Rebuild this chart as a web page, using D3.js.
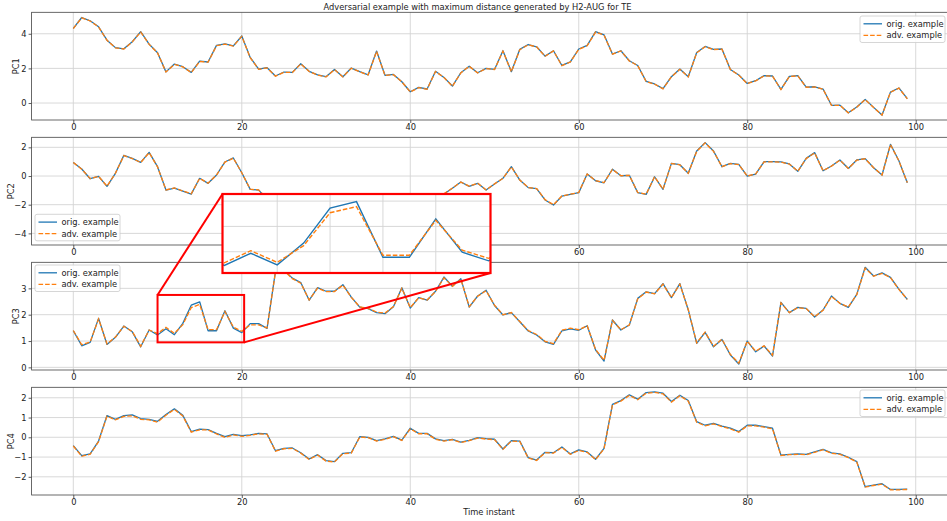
<!DOCTYPE html>
<html><head><meta charset="utf-8">
<script src="https://cdn.jsdelivr.net/npm/d3@7"></script>
<style>
body{margin:0;background:#fff}
svg text{font-family:"DejaVu Sans",sans-serif;fill:#222}
</style></head>
<body><svg id="c" width="947" height="521"></svg>
<script>
// ---------------- data ----------------
const timeIdx = d3.range(100);
const xTicks = [0, 20, 40, 60, 80, 100];
const pc1Ticks = [0, 2, 4];
const pc2Ticks = [-4, -2, 0, 2];
const pc3Ticks = [0, 1, 2, 3];
const pc4Ticks = [-2, -1, 0, 1, 2];
const insetXTicks = [12, 14, 16, 18];
const insetYTicks = [1.5, 2.0, 2.5];

const pc1Orig = [4.31,4.94,4.75,4.4,3.63,3.2,3.13,3.54,4.12,3.4,
2.9,1.8,2.25,2.1,1.77,2.42,2.37,3.33,3.42,3.3,
3.87,2.63,1.96,2.04,1.56,1.79,1.77,2.27,1.83,1.63,
1.52,1.94,1.52,2.02,1.81,1.63,3.0,1.6,1.65,1.23,
0.65,0.9,0.81,1.83,1.48,0.98,1.75,2.13,1.75,2.0,
1.94,3.02,1.81,3.1,3.38,3.25,2.71,3.02,2.17,2.38,
3.12,3.33,4.12,3.94,2.83,3.02,2.44,2.17,1.25,1.1,
0.83,1.52,1.96,1.52,2.92,3.27,3.1,3.12,1.94,1.62,
1.13,1.29,1.58,1.56,0.79,1.54,1.58,0.92,0.94,0.81,
-0.13,-0.12,-0.56,-0.23,0.21,-0.25,-0.69,0.63,0.87,0.25];
const pc1Adv = [4.30,4.92,4.74,4.39,3.62,3.19,3.12,3.53,4.10,3.39,
2.89,1.79,2.23,2.09,1.76,2.40,2.36,3.31,3.40,3.29,
3.85,2.62,1.95,2.03,1.55,1.78,1.76,2.26,1.82,1.62,
1.51,1.93,1.51,2.01,1.80,1.62,2.98,1.59,1.64,1.22,
0.64,0.89,0.80,1.82,1.47,0.97,1.74,2.12,1.74,1.99,
1.93,3.00,1.80,3.08,3.36,3.24,2.70,3.01,2.16,2.37,
3.10,3.31,4.10,3.92,2.82,3.01,2.43,2.16,1.24,1.09,
0.82,1.51,1.95,1.51,2.90,3.25,3.09,3.11,1.93,1.61,
1.12,1.28,1.57,1.55,0.78,1.53,1.57,0.91,0.93,0.80,
-0.14,-0.13,-0.57,-0.24,0.20,-0.26,-0.70,0.62,0.86,0.24];

const pc2Orig = [0.95,0.49,-0.19,-0.02,-0.72,0.19,1.44,1.23,0.95,1.65,
0.65,-0.98,-0.84,-1.05,-1.26,-0.16,-0.51,0.07,0.98,1.26,
0.23,-0.93,-0.98,-1.6,-1.9,-1.7,-2.1,-1.8,-1.5,-1.9,
-2.2,-1.7,-1.8,-2.0,-1.6,-1.9,-1.7,-1.5,-1.8,-2.0,
-1.7,-1.9,-1.6,-1.7,-1.25,-0.85,-0.42,-0.72,-0.51,-0.98,
-0.56,-0.16,0.65,-0.28,-0.81,-0.88,-1.67,-2.02,-1.4,-1.28,
-1.16,0.14,-0.33,-0.47,0.47,0.02,0.05,-1.16,-1.28,-0.05,
-0.93,0.88,0.79,0.19,1.74,2.33,1.74,0.65,0.88,0.81,
0.0,0.14,1.0,1.0,0.98,0.84,0.33,1.23,1.63,0.37,
0.7,1.12,0.53,1.12,1.21,0.58,0.07,2.21,1.07,-0.47];
const pc2Adv = [0.94,0.48,-0.18,-0.02,-0.71,0.19,1.42,1.22,0.94,1.63,
0.64,-0.97,-0.83,-1.04,-1.24,-0.16,-0.50,0.07,0.97,1.24,
0.23,-0.92,-0.97,-1.58,-1.88,-1.69,-2.08,-1.79,-1.5,-1.88,
-2.18,-1.69,-1.79,-1.98,-1.6,-1.88,-1.69,-1.5,-1.79,-1.98,
-1.69,-1.88,-1.6,-1.69,-1.24,-0.84,-0.42,-0.71,-0.50,-0.97,
-0.55,-0.16,0.64,-0.28,-0.80,-0.87,-1.65,-2.00,-1.39,-1.27,
-1.15,0.14,-0.33,-0.46,0.46,0.02,0.05,-1.15,-1.27,-0.05,
-0.92,0.87,0.78,0.19,1.72,2.31,1.72,0.65,0.87,0.80,
0.0,0.14,0.99,0.99,0.97,0.83,0.33,1.22,1.61,0.37,
0.69,1.11,0.53,1.11,1.20,0.58,0.07,2.19,1.06,-0.46];

const pc3Orig = [1.39,0.82,0.95,1.86,0.87,1.14,1.57,1.35,0.78,1.42,
1.23,1.47,1.24,1.67,2.36,2.49,1.39,1.39,2.15,1.49,
1.32,1.66,1.66,1.48,3.65,3.7,3.39,3.22,2.55,3.03,
2.89,2.89,3.14,2.67,2.29,2.23,2.08,2.04,2.3,3.02,
2.25,2.65,2.55,2.89,3.43,3.08,3.37,2.29,2.71,2.93,
2.35,1.99,2.08,1.73,1.38,1.23,0.97,0.87,1.39,1.46,
1.41,1.58,0.66,0.24,1.8,1.42,1.61,2.62,2.87,2.8,
3.18,2.65,3.18,2.18,0.91,1.33,0.78,1.06,0.47,0.13,
1.0,0.59,0.81,0.43,2.47,2.08,2.28,2.24,1.91,2.18,
2.71,2.43,2.28,2.77,3.8,3.47,3.59,3.42,2.97,2.58];
const pc3Adv = [1.40,0.86,0.96,1.84,0.89,1.15,1.56,1.36,0.80,1.42,
1.28,1.52,1.29,1.62,2.27,2.39,1.43,1.43,2.12,1.53,
1.37,1.61,1.61,1.50,3.62,3.68,3.37,3.20,2.56,3.01,
2.88,2.88,3.12,2.66,2.30,2.24,2.10,2.06,2.31,3.0,
2.27,2.64,2.56,2.88,3.40,3.08,3.35,2.31,2.70,2.91,
2.36,2.0,2.08,1.74,1.40,1.25,0.99,0.90,1.41,1.49,
1.43,1.58,0.68,0.27,1.78,1.43,1.61,2.60,2.86,2.79,
3.16,2.65,3.16,2.19,0.93,1.34,0.80,1.07,0.49,0.16,
1.0,0.61,0.82,0.46,2.45,2.08,2.27,2.23,1.92,2.17,
2.69,2.43,2.29,2.76,3.77,3.46,3.57,3.41,2.96,2.58];

const pc4Orig = [-0.42,-0.93,-0.84,-0.19,1.1,0.91,1.1,1.13,0.95,0.91,
0.81,1.15,1.44,1.11,0.29,0.41,0.39,0.2,0.03,0.15,
0.08,0.12,0.2,0.17,-0.68,-0.56,-0.54,-0.78,-1.1,-0.88,
-1.18,-1.23,-0.81,-0.78,0.03,0.0,-0.17,-0.08,0.05,-0.14,
0.46,0.2,0.2,-0.08,-0.17,-0.1,-0.24,-0.15,-0.02,-0.07,
-0.1,-0.59,-0.17,-0.19,-1.03,-1.15,-0.76,-0.78,-0.49,-0.84,
-0.64,-0.74,-1.11,-0.56,1.67,1.86,2.15,1.93,2.26,2.3,
2.23,1.81,2.13,1.86,0.79,0.61,0.71,0.57,0.46,0.29,
0.61,0.61,0.54,0.46,-0.9,-0.86,-0.84,-0.86,-0.74,-0.61,
-0.79,-0.84,-1.01,-1.23,-2.5,-2.42,-2.35,-2.64,-2.64,-2.62];
const pc4Adv = [-0.44,-0.96,-0.86,-0.22,1.07,0.88,1.06,1.09,0.91,0.88,
0.77,1.12,1.41,1.08,0.26,0.38,0.37,0.17,0.0,0.12,
0.05,0.1,0.18,0.15,-0.7,-0.58,-0.56,-0.8,-1.12,-0.9,
-1.2,-1.25,-0.83,-0.8,0.01,-0.02,-0.19,-0.1,0.03,-0.16,
0.43,0.18,0.18,-0.1,-0.19,-0.12,-0.26,-0.17,-0.04,-0.09,
-0.12,-0.61,-0.19,-0.21,-1.05,-1.17,-0.78,-0.8,-0.51,-0.86,
-0.66,-0.76,-1.13,-0.58,1.64,1.83,2.12,1.9,2.23,2.27,
2.2,1.78,2.1,1.83,0.76,0.58,0.68,0.54,0.43,0.26,
0.58,0.58,0.51,0.43,-0.92,-0.88,-0.86,-0.88,-0.76,-0.63,
-0.81,-0.86,-1.03,-1.25,-2.52,-2.44,-2.37,-2.66,-2.66,-2.64];

const seriesNames = ["orig. example", "adv. example"];
const panelNames = ["PC1", "PC2", "PC3", "PC4"];

// ---------------- layout ----------------
const svg = d3.select("#c");
const FS = 8.3;
const BLUE = "#1f77b4", ORANGE = "#ff7f0e";
const xL = 31.6, xR = 949;
const x = d3.scaleLinear().domain([-4.95, 103.95]).range([xL, xR]);

const panels = [
  {name: panelNames[0], orig: pc1Orig, adv: pc1Adv, ticks: pc1Ticks, dom: [-0.98, 5.24], top: 12.3, bot: 120, leg: [860, 16], labX: 19},
  {name: panelNames[1], orig: pc2Orig, adv: pc2Adv, ticks: pc2Ticks, dom: [-4.81, 2.70], top: 137.3, bot: 245, leg: [35, 214.3], labX: 14},
  {name: panelNames[2], orig: pc3Orig, adv: pc3Adv, ticks: pc3Ticks, dom: [-0.10, 3.99], top: 262.3, bot: 370, leg: [35, 265], labX: 19},
  {name: panelNames[3], orig: pc4Orig, adv: pc4Adv, ticks: pc4Ticks, dom: [-2.92, 2.53], top: 387.3, bot: 495, leg: [860, 390], labX: 14}
];
const fmt = d => (d < 0 ? "\u2212" + Math.abs(d) : String(d));

panels.forEach((p, k) => {
  const y = d3.scaleLinear().domain(p.dom).range([p.bot, p.top]);
  p.y = y;
  const g = svg.append("g");
  const cid = "clip" + k;
  svg.append("clipPath").attr("id", cid).append("rect")
    .attr("x", xL).attr("y", p.top).attr("width", xR - xL).attr("height", p.bot - p.top);
  // grid
  g.append("g").selectAll("line").data(xTicks).join("line")
    .attr("x1", d => x(d)).attr("x2", d => x(d)).attr("y1", p.top).attr("y2", p.bot)
    .attr("stroke", "#d4d4d4").attr("stroke-width", 0.9);
  g.append("g").selectAll("line").data(p.ticks).join("line")
    .attr("x1", xL).attr("x2", xR).attr("y1", d => y(d)).attr("y2", d => y(d))
    .attr("stroke", "#d4d4d4").attr("stroke-width", 0.9);
  // lines
  const line = d3.line().x((d, i) => x(timeIdx[i])).y(d => y(d));
  const lg = g.append("g").attr("clip-path", `url(#${cid})`);
  lg.append("path").attr("d", line(p.orig)).attr("fill", "none")
    .attr("stroke", BLUE).attr("stroke-width", 1.3).attr("stroke-linejoin", "round");
  lg.append("path").attr("d", line(p.adv)).attr("fill", "none")
    .attr("stroke", ORANGE).attr("stroke-width", 1.3).attr("stroke-dasharray", "4.6,2");
  // axes
  const ay = g.append("g").attr("transform", `translate(${xL},0)`)
    .call(d3.axisLeft(y).tickValues(p.ticks).tickSize(3).tickPadding(2).tickFormat(fmt));
  const ax = g.append("g").attr("transform", `translate(0,${p.bot})`)
    .call(d3.axisBottom(x).tickValues(xTicks).tickSize(3).tickPadding(1).tickFormat(fmt));
  [ay, ax].forEach(a => {
    a.select(".domain").remove();
    a.selectAll("line").attr("stroke", "#333").attr("stroke-width", 0.8);
    a.selectAll("text").attr("font-size", FS).attr("fill", "#222")
      .attr("font-family", "DejaVu Sans, sans-serif");
  });
  // spines
  g.append("rect").attr("x", xL).attr("y", p.top).attr("width", xR - xL).attr("height", p.bot - p.top)
    .attr("fill", "none").attr("stroke", "#444").attr("stroke-width", 0.8);
  // y label
  g.append("text").attr("transform", `translate(${p.labX},${(p.top + p.bot) / 2}) rotate(-90)`)
    .attr("text-anchor", "middle").attr("font-size", FS).text(p.name);
  // legend
  const [lx, ly] = p.leg;
  const L = g.append("g");
  L.append("rect").attr("x", lx).attr("y", ly).attr("width", 85).attr("height", 26.5)
    .attr("rx", 2).attr("fill", "#fff").attr("fill-opacity", 0.85)
    .attr("stroke", "#cccccc").attr("stroke-width", 0.8);
  seriesNames.forEach((s, j) => {
    const yy = ly + 7.8 + j * 11.6;
    L.append("line").attr("x1", lx + 3.5).attr("x2", lx + 22).attr("y1", yy).attr("y2", yy)
      .attr("stroke", j === 0 ? BLUE : ORANGE).attr("stroke-width", 1.3)
      .attr("stroke-dasharray", j === 0 ? null : "4.6,2");
    L.append("text").attr("x", lx + 26.5).attr("y", yy).attr("dy", "0.35em")
      .attr("font-size", FS).text(s);
  });
});

// title and x label
svg.append("text").attr("x", 477.5).attr("y", 10).attr("text-anchor", "middle")
  .attr("font-size", FS).text("Adversarial example with maximum distance generated by H2-AUG for TE");
svg.append("text").attr("x", 489).attr("y", 514.5).attr("text-anchor", "middle")
  .attr("font-size", FS).text("Time instant");

// ---------------- zoom inset ----------------
const p3 = panels[2];
const boxX = [10.0, 20.28], boxY = [0.95, 2.75];
const inset = {x0: 222.5, x1: 490.5, y0: 194, y1: 273};
const ix = d3.scaleLinear().domain([9.93, 20.07]).range([inset.x0, inset.x1]);
const iy = d3.scaleLinear().domain([1.08, 2.64]).range([inset.y1, inset.y0]);
const RED = "#ff0000";

// marked region + connectors
svg.append("rect").attr("x", x(boxX[0])).attr("y", p3.y(boxY[1]))
  .attr("width", x(boxX[1]) - x(boxX[0])).attr("height", p3.y(boxY[0]) - p3.y(boxY[1]))
  .attr("fill", "none").attr("stroke", RED).attr("stroke-width", 2);
svg.append("line").attr("x1", x(boxX[0])).attr("y1", p3.y(boxY[1]))
  .attr("x2", inset.x0).attr("y2", inset.y0).attr("stroke", RED).attr("stroke-width", 2);
svg.append("line").attr("x1", x(boxX[1])).attr("y1", p3.y(boxY[0]))
  .attr("x2", inset.x1).attr("y2", inset.y1).attr("stroke", RED).attr("stroke-width", 2);

const ig = svg.append("g");
svg.append("clipPath").attr("id", "clipInset").append("rect")
  .attr("x", inset.x0).attr("y", inset.y0).attr("width", inset.x1 - inset.x0).attr("height", inset.y1 - inset.y0);
ig.append("rect").attr("x", inset.x0).attr("y", inset.y0)
  .attr("width", inset.x1 - inset.x0).attr("height", inset.y1 - inset.y0).attr("fill", "#fff");
ig.append("g").selectAll("line").data(insetXTicks).join("line")
  .attr("x1", d => ix(d)).attr("x2", d => ix(d)).attr("y1", inset.y0).attr("y2", inset.y1)
  .attr("stroke", "#d4d4d4").attr("stroke-width", 0.9);
ig.append("g").selectAll("line").data(insetYTicks).join("line")
  .attr("x1", inset.x0).attr("x2", inset.x1).attr("y1", d => iy(d)).attr("y2", d => iy(d))
  .attr("stroke", "#d4d4d4").attr("stroke-width", 0.9);
const iline = d3.line().x((d, i) => ix(timeIdx[i])).y(d => iy(d));
const il = ig.append("g").attr("clip-path", "url(#clipInset)");
il.append("path").attr("d", iline(pc3Orig)).attr("fill", "none")
  .attr("stroke", BLUE).attr("stroke-width", 1.4);
il.append("path").attr("d", iline(pc3Adv)).attr("fill", "none")
  .attr("stroke", ORANGE).attr("stroke-width", 1.4).attr("stroke-dasharray", "4.6,2");
ig.append("rect").attr("x", inset.x0).attr("y", inset.y0)
  .attr("width", inset.x1 - inset.x0).attr("height", inset.y1 - inset.y0)
  .attr("fill", "none").attr("stroke", RED).attr("stroke-width", 2.2);
</script>
</body></html>
